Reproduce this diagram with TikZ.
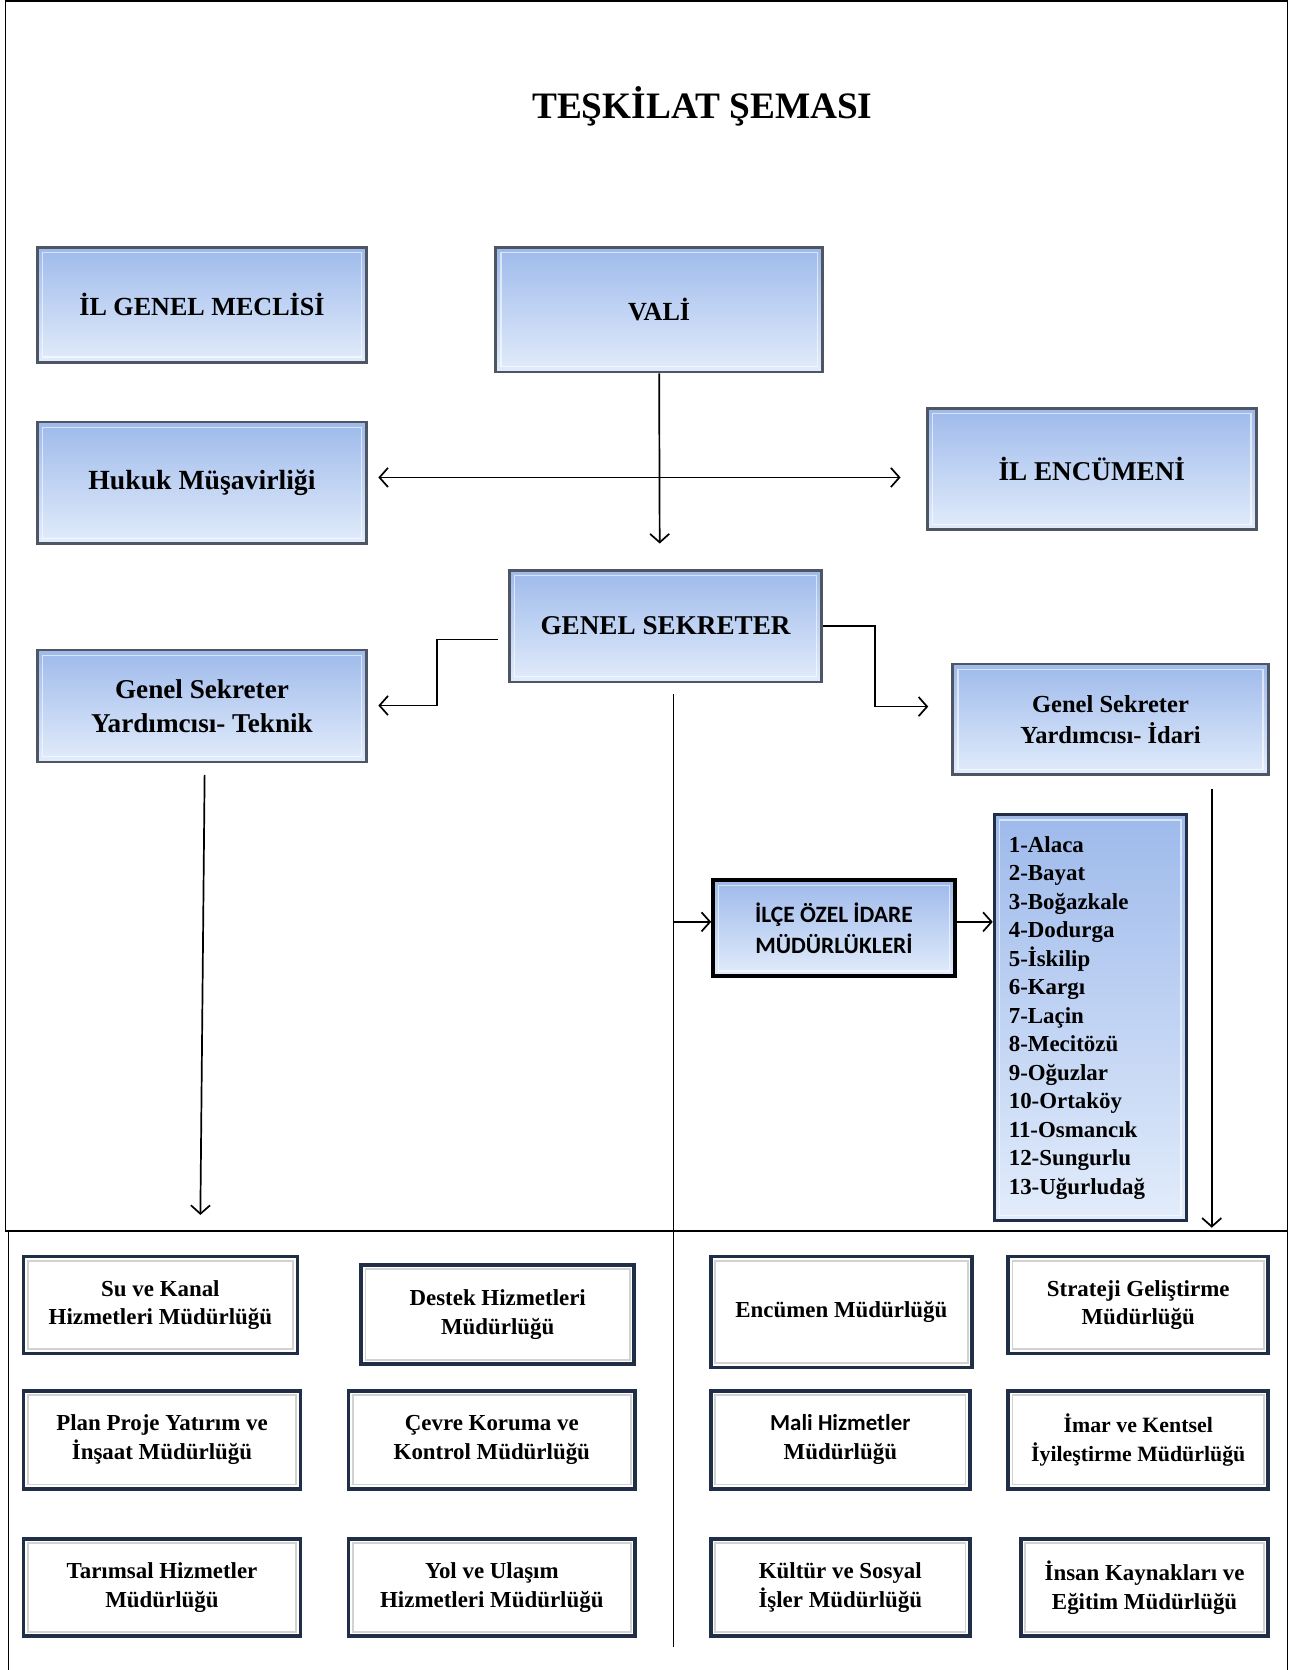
\documentclass[tikz,border=0pt]{standalone}
\usepackage{fontspec}
\setmainfont{Liberation Serif}
\newfontfamily\calib{Carlito}
\usetikzlibrary{arrows.meta}
\definecolor{bluetop}{RGB}{158,186,235}
\definecolor{bluebot}{RGB}{226,236,251}
\definecolor{boxedge}{RGB}{78,86,100}
\definecolor{navyedge}{RGB}{32,46,72}
\begin{document}
\begin{tikzpicture}[x=1pt,y=-1pt,
  bevel/.style={path picture={\draw[white,opacity=0.6,line width=1.3pt]
      ([shift={(5pt,-5pt)}]path picture bounding box.north west) rectangle
      ([shift={(-5pt,5pt)}]path picture bounding box.south east);}},
  greybevel/.style={path picture={\draw[gray!35,line width=1.6pt]
      ([shift={(4pt,-4pt)}]path picture bounding box.north west) rectangle
      ([shift={(-4pt,4pt)}]path picture bounding box.south east);}},
  bluebox/.style={draw=boxedge, line width=2.6pt, top color=bluetop, bottom color=bluebot,
      bevel, align=center, inner sep=0pt},
  whitebox/.style={draw=navyedge, line width=3.4pt, fill=white, greybevel,
      align=center, inner sep=0pt, font=\bfseries\fontsize{21.5}{27}\selectfont},
  arr/.style={line width=1.6pt, -{Straight Barb[length=8pt,width=18pt,line width=1.6pt]}},
  dblarr/.style={line width=1.6pt, {Straight Barb[length=8pt,width=18pt,line width=1.6pt]}-{Straight Barb[length=8pt,width=18pt,line width=1.6pt]}},
  plain/.style={line width=1.6pt},
  framel/.style={line width=1.2pt},
  sepl/.style={line width=2.6pt}]
\useasboundingbox (0,0) rectangle (1221,1567);

% frame
\draw[framel] (5,1155) -- (5,1) -- (1208,1) -- (1208,1567);
\draw[framel] (8,1155) -- (8,1567);
\draw[sepl] (5,1155) -- (1208,1155);

% title
\node[font=\bfseries\fontsize{35}{40}\selectfont] (title) at (659,100) {TEŞKİLAT ŞEMASI};

% upper boxes
\node[bluebox, minimum width=309pt, minimum height=108pt,
      font=\bfseries\fontsize{24.5}{29}\selectfont] (meclis) at (189.5,286) {İL GENEL MECLİSİ};
\node[bluebox, minimum width=307pt, minimum height=117pt,
      font=\bfseries\fontsize{24.5}{29}\selectfont] (vali) at (618.5,290.5) {VALİ};
\node[bluebox, minimum width=309pt, minimum height=114pt,
      font=\bfseries\fontsize{26}{30}\selectfont] (hukuk) at (189.5,453) {Hukuk Müşavirliği};
\node[bluebox, minimum width=309pt, minimum height=114pt,
      font=\bfseries\fontsize{25.5}{30}\selectfont] (encumen) at (1024.5,440) {İL ENCÜMENİ};
\node[bluebox, minimum width=293pt, minimum height=105pt,
      font=\bfseries\fontsize{25.5}{30}\selectfont] (gensek) at (624.5,587.5) {GENEL SEKRETER};
\node[bluebox, minimum width=309pt, minimum height=105pt,
      font=\bfseries\fontsize{25.5}{32}\selectfont] (teknik) at (189.5,662.5)
  {Genel Sekreter\\Yardımcısı- Teknik};
\node[bluebox, minimum width=296pt, minimum height=104pt,
      font=\bfseries\fontsize{23}{29}\selectfont] (idari) at (1042,675)
  {Genel Sekreter\\Yardımcısı- İdari};
\node[bluebox, draw=black, line width=3.4pt, minimum width=227pt, minimum height=90pt,
      font=\calib\bfseries\fontsize{22}{29}\selectfont] (ilce) at (782.5,871)
  {İLÇE ÖZEL İDARE\\MÜDÜRLÜKLERİ};
\node[bluebox, draw=navyedge, line width=3pt, minimum width=180pt, minimum height=381pt,
      align=left, font=\bfseries\fontsize{21.5}{26.75}\selectfont] (ilceler) at (1023,955)
  {1-Alaca\\2-Bayat\\3-Boğazkale\\4-Dodurga\\5-İskilip\\6-Kargı\\7-Laçin\\8-Mecitözü\\%
   9-Oğuzlar\\10-Ortaköy\\11-Osmancık\\12-Sungurlu\\13-Uğurludağ\hspace*{25pt}};

% bottom boxes
\node[whitebox, minimum width=257pt, minimum height=91pt] (su) at (150.5,1224.5)
  {Su ve Kanal\\Hizmetleri Müdürlüğü};
\node[whitebox, minimum width=256pt, minimum height=93pt] (destek) at (467,1233.5)
  {Destek Hizmetleri\\Müdürlüğü};
\node[whitebox, minimum width=245pt, minimum height=104pt] (encmud) at (789.5,1231)
  {Encümen Müdürlüğü};
\node[whitebox, minimum width=244pt, minimum height=91pt] (strateji) at (1068,1224.5)
  {Strateji Geliştirme\\Müdürlüğü};
\node[whitebox, minimum width=260pt, minimum height=92pt] (plan) at (152,1351)
  {Plan Proje Yatırım ve\\İnşaat Müdürlüğü};
\node[whitebox, minimum width=269pt, minimum height=92pt] (cevre) at (461.5,1351)
  {Çevre Koruma ve\\Kontrol Müdürlüğü};
\node[whitebox, minimum width=243pt, minimum height=92pt] (mali) at (788.5,1351)
  {{\calib\bfseries Mali Hizmetler}\\Müdürlüğü};
\node[whitebox, minimum width=244pt, minimum height=92pt,
      font=\bfseries\fontsize{20.5}{27}\selectfont] (imar) at (1068,1351)
  {İmar ve Kentsel\\İyileştirme Müdürlüğü};
\node[whitebox, minimum width=260pt, minimum height=91pt] (tarim) at (152,1489.5)
  {Tarımsal Hizmetler\\Müdürlüğü};
\node[whitebox, minimum width=269pt, minimum height=91pt] (yol) at (461.5,1489.5)
  {Yol ve Ulaşım\\Hizmetleri Müdürlüğü};
\node[whitebox, minimum width=243pt, minimum height=91pt] (kultur) at (788.5,1489.5)
  {Kültür ve Sosyal\\İşler Müdürlüğü};
\node[whitebox, minimum width=232pt, minimum height=91pt] (insan) at (1074,1489.5)
  {İnsan Kaynakları ve\\Eğitim Müdürlüğü};

% connector points
\coordinate (valiend) at (619,510);
\coordinate (hl) at (355,448);
\coordinate (hr) at (845,448);
\coordinate (gsl) at (467,600);
\coordinate (gslk) at (410,600);
\coordinate (gslk2) at (410,662);
\coordinate (tekin) at (355,662);
\coordinate (gsrk) at (821,587.5);
\coordinate (idin) at (871,663);
\coordinate (midtop) at (632,651);
\coordinate (midbot) at (632,1545);
\coordinate (midbr) at (632,865);
\coordinate (tekout) at (192,727);
\coordinate (tekend) at (188,1140);
\coordinate (idout) at (1137,740);
\coordinate (idend) at (1137,1152);

% connectors
\draw[arr] (vali.south) -- (valiend);
\draw[dblarr] (hl) -- (hr);
\draw[arr] (gsl) -- (gslk) -- (gslk2) -- (tekin);
\draw[arr] (gensek.east) -- (gsrk) |- (idin);
\draw[plain] (midtop) -- (midbot);
\draw[arr] (midbr) -- (ilce.west |- midbr);
\draw[arr] (ilce.east |- midbr) -- (ilceler.west |- midbr);
\draw[arr] (tekout) -- (tekend);
\draw[arr] (idout) -- (idend);
\end{tikzpicture}
\end{document}
